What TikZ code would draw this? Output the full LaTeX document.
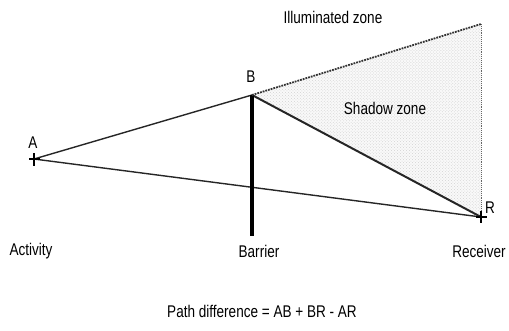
\documentclass[tikz,border=0pt]{standalone}
\usepackage{fontspec}
\setmainfont{Liberation Sans}
\usetikzlibrary{patterns}
\begin{document}
\begin{tikzpicture}[x=1bp,y=-1bp,
  lbl/.style={inner sep=0pt,font=\fontsize{17}{18}\selectfont},
  line/.style={line width=1.4bp,black!85}]
\useasboundingbox (0,0) rectangle (509,330);
\coordinate (A) at (34,159);
\coordinate (B) at (252,95);
\coordinate (R) at (481,217);
\coordinate (T) at (481,24);
\coordinate (F) at (252,236);
% shadow zone
\fill[gray!5] (B) -- (T) -- (R) -- cycle;
\fill[pattern=crosshatch dots,pattern color=gray!35] (B) -- (T) -- (R) -- cycle;
% lines
\draw[line] (A) -- (B);
\draw[line] (A) -- (R);
\draw[line,line width=2bp] (B) -- (R);
\draw[line width=3.2bp] (B) -- (F);
\draw[densely dotted,line width=1.8bp,black!80] (B) -- (T);
\draw[densely dotted,line width=0.9bp,black!60] (T) -- (R);
% crosses
\draw[line width=1.5bp] (29,159) -- (40,159) (34,153) -- (34,166);
\draw[line width=1.5bp] (476,217) -- (487,217) (481,211) -- (481,223);
% labels
\node[lbl] (la) at (33,143) {\scalebox{0.8}[1]{A}};
\node[lbl] (lb) at (251,77) {\scalebox{0.8}[1]{B}};
\node[lbl] (lr) at (490,208) {\scalebox{0.8}[1]{R}};
\node[lbl] (il) at (333,17) {\scalebox{0.8}[1]{Illuminated zone}};
\node[lbl] (sh) at (385,108) {\scalebox{0.8}[1]{Shadow zone}};
\node[lbl] (ac) at (31,251) {\scalebox{0.8}[1]{Activity}};
\node[lbl] (ba) at (259,251) {\scalebox{0.8}[1]{Barrier}};
\node[lbl] (re) at (479,251) {\scalebox{0.8}[1]{Receiver}};
\node[lbl] (pd) at (262,311) {\scalebox{0.8}[1]{Path difference = AB + BR - AR}};
\end{tikzpicture}
\end{document}
